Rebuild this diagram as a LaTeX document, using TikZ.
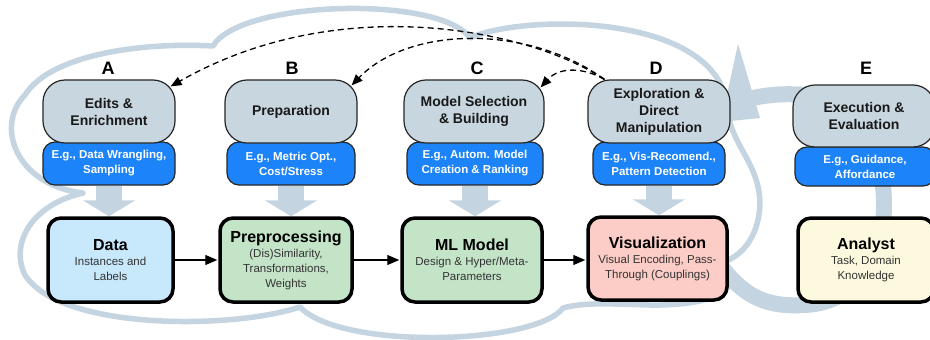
\documentclass[tikz,border=0pt]{standalone}
\usepackage{fontspec}
\setmainfont{Liberation Sans}
\usetikzlibrary{arrows.meta,backgrounds,calc}

\definecolor{band}{HTML}{C4D4E1}
\definecolor{stagegray}{HTML}{C8D6E0}
\definecolor{hintblue}{HTML}{1C84F8}
\definecolor{datafill}{HTML}{C8E8FC}
\definecolor{greenfill}{HTML}{C4E4C8}
\definecolor{visfill}{HTML}{FCCCC6}
\definecolor{analystfill}{HTML}{FDF9DE}

\newcommand{\coretitle}[1]{{\fontsize{16}{16}\selectfont\bfseries\color{black}#1}}

\tikzset{
  stage/.style={draw=black!85, line width=1.2pt, fill=stagegray, rounded corners=22pt,
    minimum height=63pt, inner sep=0pt, align=center,
    font=\fontsize{14}{17}\selectfont\bfseries, text=black!90},
  hint/.style={draw=black!85, line width=1.2pt, fill=hintblue, rounded corners=12pt,
    minimum height=43pt, inner sep=0pt, align=center,
    font=\fontsize{11.5}{15}\selectfont\bfseries, text=white},
  core/.style={draw=black, line width=3.5pt, rounded corners=13pt,
    minimum height=84pt, inner sep=0pt, align=center,
    font=\fontsize{11.5}{15}\selectfont, text=black!80},
  letter/.style={font=\fontsize{18}{18}\selectfont\bfseries, inner sep=0pt},
  flow/.style={draw=band, line width=26pt, -{Triangle[length=16pt,width=52pt]}},
  feed/.style={line width=1.3pt, -{Triangle[length=12pt,width=10pt]}, shorten >=1pt},
  back/.style={line width=1.3pt, dash pattern=on 6pt off 4pt,
    -{Triangle[length=11pt,width=9pt]}},
  cloudline/.style={draw=band, line width=5.5pt, line join=round},
}

\begin{document}
\begin{tikzpicture}[x=1pt, y=-1pt]
\useasboundingbox (0,0) rectangle (930,340);

% cloud outline and the analyst loop behind everything
\begin{pgfonlayer}{background}
  \fill[white] (0,0) rectangle (930,340);
  \draw[cloudline] (213,46) .. controls (240,0) and (440,-5) .. (470,38)
    .. controls (520,15) and (700,12) .. (725,95)
    .. controls (727,145) and (760,160) .. (760,205)
    .. controls (758,240) and (740,258) .. (718,264)
    .. controls (750,290) and (710,306) .. (650,305)
    .. controls (610,304) and (585,302) .. (563,308)
    .. controls (535,345) and (340,350) .. (300,307)
    .. controls (230,330) and (60,330) .. (25,275)
    .. controls (10,245) and (30,205) .. (83,193)
    .. controls (15,185) and (-5,125) .. (25,95)
    .. controls (50,55) and (140,42) .. (213,46) -- cycle;
  \draw[band, line width=16pt] (718,262)
    .. controls (745,300) and (770,307) .. (805,305)
    .. controls (860,302) and (884,255) .. (884,205)
    .. controls (884,140) and (850,100) .. (805,95)
    .. controls (785,93) and (765,95) .. (748,99);
  \fill[band] (738,44) -- (721,122) -- (760,118) -- cycle;
\end{pgfonlayer}

% phase letters
\node[letter] (lA) at (108,68) {A};
\node[letter] (lB) at (292,68) {B};
\node[letter] (lC) at (477,68) {C};
\node[letter] (lD) at (656,68) {D};
\node[letter] (lE) at (866,68) {E};

% example boxes (drawn first, stage boxes sit on top)
\node[hint, minimum width=132pt] (hA) at (109,163.5) {E.g., Data Wrangling,\\Sampling};
\node[hint, minimum width=128pt] (hB) at (291,163.5) {E.g., Metric Opt.,\\Cost/Stress};
\node[hint, minimum width=136pt] (hC) at (475,163.5) {E.g., Autom. Model\\Creation \& Ranking};
\node[hint, minimum width=132pt] (hD) at (659,163.5) {E.g., Vis-Recomend.,\\Pattern Detection};
\node[hint, minimum width=140pt, minimum height=39pt] (hE) at (865,166.5) {E.g., Guidance,\\Affordance};

% stage boxes
\node[stage, minimum width=132pt] (gA) at (109,111.5) {Edits \&\\Enrichment};
\node[stage, minimum width=132pt] (gB) at (291,111.5) {Preparation};
\node[stage, minimum width=140pt] (gC) at (474,111.5) {Model Selection\\\& Building};
\node[stage, minimum width=142pt] (gD) at (659,111.5) {Exploration \&\\Direct\\Manipulation};
\node[stage, minimum width=142pt, minimum height=62pt] (gE) at (864,116) {Execution \&\\Evaluation};

% pipeline boxes
\node[core, fill=datafill, minimum width=125pt] (data) at (110.5,260) {\coretitle{Data}\\Instances and\\Labels};
\node[core, fill=greenfill, minimum width=132pt] (prep) at (286,260) {\coretitle{Preprocessing}\\(Dis)Similarity,\\Transformations,\\Weights};
\node[core, fill=greenfill, minimum width=140pt] (ml) at (472,260) {\coretitle{ML Model}\\Design \& Hyper/Meta-\\Parameters};
\node[core, fill=visfill, minimum width=139pt, minimum height=83pt] (vis) at (657.5,258.5) {\coretitle{Visualization}\\Visual Encoding, Pass-\\Through (Couplings)};
\node[core, fill=analystfill, minimum width=136pt] (analyst) at (866,260) {\coretitle{Analyst}\\Task, Domain\\Knowledge};

% pipeline arrows
\draw[feed] (data) -- (prep);
\draw[feed] (prep) -- (ml);
\draw[feed] (ml.east) -- (ml.east -| vis.west);

% broad arrows from examples into the pipeline
\begin{pgfonlayer}{background}
  \draw[flow] (hA.south) -- (hA.south |- data.north);
  \draw[flow] (hB.south) -- (hB.south |- prep.north);
  \draw[flow] (hC.south) -- (hC.south |- ml.north);
  \draw[flow] (hD.south) -- (hD.south |- vis.north);
\end{pgfonlayer}

% feedback from exploration to earlier stages
\coordinate (dsrc) at ($(gD.north west)+(17,0)$);
\draw[back] (dsrc) .. controls (530,30) and (340,-10) .. ($(gA.north east)+(-5,7)$);
\draw[back] (dsrc) .. controls (530,25) and (410,25) .. ($(gB.north east)+(-6,6)$);
\draw[back] (dsrc) .. controls (585,68) and (560,66) .. ($(gC.north east)+(-4,8)$);
\end{tikzpicture}
\end{document}
